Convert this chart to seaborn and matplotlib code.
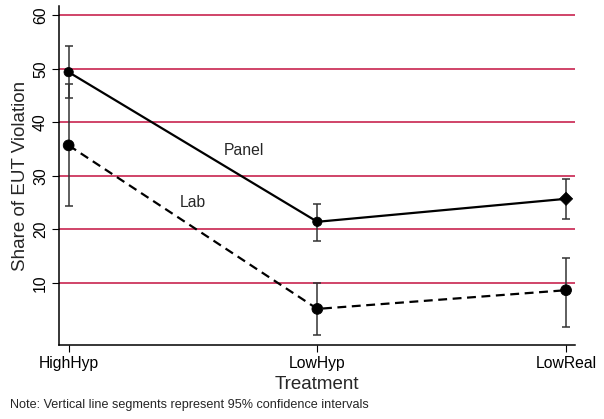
import numpy as np
import pandas as pd
import seaborn as sns
import matplotlib.pyplot as plt

# treatments and estimated shares
treatments = ["HighHyp", "LowHyp", "LowReal"]
panel_share = [49.4, 21.4, 25.7]
panel_lo = [44.5, 17.8, 21.9]
panel_hi = [54.3, 24.8, 29.4]
lab_share = [35.7, 5.1, 8.6]
lab_lo = [24.3, 0.2, 1.8]
lab_hi = [47.1, 10.0, 14.6]
panel_markers = ["o", "o", "D"]
lab_markers = ["o", "o", "o"]

df = pd.DataFrame({
    "pos": list(range(3)) * 2,
    "share": panel_share + lab_share,
    "lo": panel_lo + lab_lo,
    "hi": panel_hi + lab_hi,
    "group": ["Panel"] * 3 + ["Lab"] * 3,
    "mk": panel_markers + lab_markers,
})

sns.set_style("white")
plt.rcParams["font.family"] = ["Liberation Sans", "DejaVu Sans"]

fig = plt.figure(figsize=(6.04, 4.19), dpi=100)
ax = fig.add_axes([0.098, 0.176, 0.854, 0.81])

grid_col = "#c8244f"
for v in range(10, 61, 10):
    ax.axhline(v, color=grid_col, lw=1.2, zorder=0)

# confidence intervals
for g in ["Panel", "Lab"]:
    sub = df[df.group == g]
    ax.errorbar(sub.pos, sub.share,
                yerr=[sub.share - sub.lo, sub.hi - sub.share],
                fmt="none", ecolor="#333333", elinewidth=1.1, capsize=2.7,
                capthick=1.1, zorder=2)

sns.lineplot(data=df, x="pos", y="share", style="group",
             dashes={"Panel": "", "Lab": (4, 2.5)}, color="black",
             linewidth=1.6, legend=False, ax=ax, zorder=3)
for g, sz in [("Panel", 45), ("Lab", 60)]:
    sns.scatterplot(data=df[df.group == g], x="pos", y="share", style="mk",
                    markers={"o": "o", "D": "D"}, color="black", s=sz,
                    edgecolor="black", legend=False, ax=ax, zorder=4)

ax.text(0.705, 34.8, "Panel", ha="center", va="center", fontsize=11.3)
ax.text(0.5, 25.1, "Lab", ha="center", va="center", fontsize=11.3)

ax.set_xlim(-0.038, 2.036)
ax.set_ylim(-1.7, 61.8)
ax.set_xticks(range(3))
ax.set_xticklabels(treatments, fontsize=11.3)
ax.set_yticks(range(10, 61, 10))
ax.set_yticklabels([str(v) for v in range(10, 61, 10)], fontsize=11.3,
                   rotation=90, va="center")
ax.set_xlabel("Treatment", fontsize=13.5, labelpad=3)
ax.set_ylabel("Share of EUT Violation", fontsize=13.5, labelpad=3)
ax.tick_params(axis="both", direction="out", length=5, width=0.8,
               colors="black", left=True, bottom=True, pad=3)

for side in ["top", "right"]:
    ax.spines[side].set_visible(False)
for side in ["left", "bottom"]:
    ax.spines[side].set_color("black")
    ax.spines[side].set_linewidth(1.1)

fig.text(0.017, 0.033, "Note: Vertical line segments represent 95% confidence intervals",
         fontsize=9.1, ha="left", va="center")

fig.savefig("out.png", dpi=100, facecolor="white")
